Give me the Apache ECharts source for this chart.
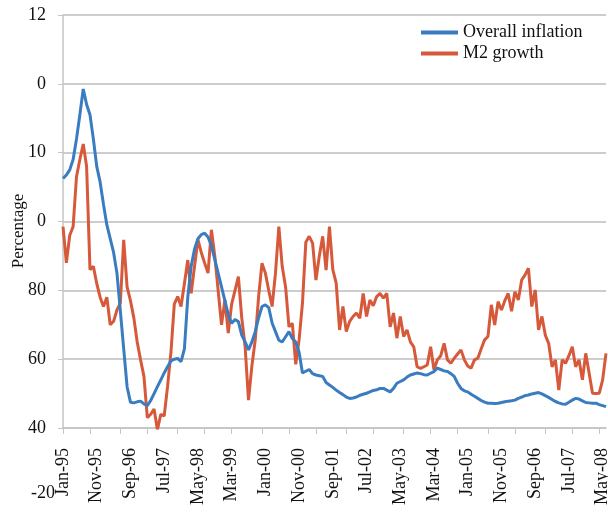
<!DOCTYPE html>
<html>
<head>
<meta charset="utf-8">
<title>Overall inflation and M2 growth</title>
<script src="https://cdn.jsdelivr.net/npm/echarts@6/dist/echarts.min.js"></script>
<style>
  html, body { margin: 0; padding: 0; background: #fff; }
  #chart { width: 608px; height: 512px; }
</style>
</head>
<body>
<div id="chart"></div>
<script>
// month names + years used to build the monthly category axis (Jan-95 .. Jun-08)
const monthNames = ['Jan', 'Feb', 'Mar', 'Apr', 'May', 'Jun', 'Jul', 'Aug', 'Sep', 'Oct', 'Nov', 'Dec']
const years = ['95', '96', '97', '98', '99', '00', '01', '02', '03', '04', '05', '06', '07', '08']

// value axis ticks and the (odd) labels printed next to them in the original
const yTicks = [40, 60, 80, 100, 120, 140, 160]
const yTickLabels = ['40', '60', '80', '0', '10', '0', '12']

const seriesNames = ['Overall inflation', 'M2 growth']

// one value per month
const inflation = [
  112.5, 113.5, 115, 118, 124, 131, 138.5, 134, 131, 124, 116, 111.5,
  105, 99, 95, 91, 85, 74, 63, 52, 47.5, 47.3, 47.6, 47.8,
  47, 46.5, 48, 50, 52, 54, 56, 57.8, 59.5, 60, 60.2, 59.3,
  63, 78, 87, 92, 95, 96.2, 96.6, 95.5, 93, 89, 85, 81,
  77, 73, 70.4, 71.5, 70.9, 67, 65, 62.7, 65, 68, 72, 75.3,
  75.8, 75, 70.5, 68, 65.5, 65, 66.5, 68, 66, 65, 62, 56,
  56.5, 57, 55.8, 55.4, 55.2, 55, 53.2, 52.5, 51.8, 51, 50.3, 49.7,
  49, 48.6, 48.7, 49, 49.5, 49.8, 50.1, 50.5, 50.9, 51.1, 51.5, 51.5,
  51, 50.5, 51.5, 53, 53.5, 54, 54.8, 55.4, 55.7, 56, 55.8, 55.5,
  55.4, 55.9, 56.4, 57.4, 57, 56.6, 56.4, 55.8, 55, 53, 51.5, 50.8,
  50.5, 49.8, 49.2, 48.6, 48, 47.5, 47.2, 47.2, 47.1, 47.2, 47.4, 47.6,
  47.8, 47.9, 48.1, 48.6, 49, 49.4, 49.6, 49.9, 50.1, 50.3, 49.9, 49.4,
  48.9, 48.3, 47.7, 47.3, 47, 46.9, 47.5, 48.1, 48.6, 48.4, 47.9, 47.4,
  47.3, 47.2, 47.2, 46.8, 46.5, 46.2
]
const m2Growth = [
  98.5, 88, 96, 98.5, 113, 118, 122.5, 116, 86, 87, 82, 78,
  75.3, 78, 70, 71, 74.3, 76.3, 94.7, 81, 77, 72, 65, 59.8,
  55, 43, 44, 45.5, 39.5, 44, 43.5, 52, 62, 76, 78.2, 75.3,
  82, 88.8, 79.1, 87, 94.7, 91, 87.9, 85, 97.6, 90, 80, 70,
  77.2, 67.6, 76, 80, 84, 72, 63.6, 48.1, 58, 65.6, 78.2, 87.9,
  85, 80, 75.3, 85, 98.5, 86.9, 81, 69.4, 70.4, 58.5, 65.6, 76.3,
  94, 95.7, 93.7, 83, 90, 95.7, 85.9, 98.5, 86, 82.1, 68.5, 75.3,
  68, 71, 72.4, 73.4, 71.9, 79.1, 72.4, 77.2, 75.5, 78.2, 79.1, 77.7,
  79.1, 69.4, 73.4, 66.1, 72.4, 66.6, 68.5, 65, 63.6, 57.8, 57.3, 57.8,
  58.3, 63.6, 56.9, 59.8, 61, 64.6, 59.8, 58.8, 60.3, 61.5, 62.7, 59.8,
  58, 57.4, 59.8, 60.3, 63, 65.6, 66.6, 75.8, 69.9, 76.7, 74.3, 77,
  79.1, 73.9, 79.6, 77.2, 83, 84.5, 86.4, 75.3, 80.1, 68.5, 72.4, 67,
  64.6, 57.8, 59.8, 51, 59.8, 58.8, 61, 63.6, 57.8, 59.8, 54, 61.7,
  55.9, 50.1, 50, 50.1, 54, 61.7
]

const months = []
years.forEach(y => {
  monthNames.forEach(m => months.push(m + '-' + y))
})
const categories = months.slice(0, inflation.length)

const serif = "'Liberation Serif', 'Times New Roman', serif"
const gridColor = '#c4c4c4'

const chart = echarts.init(document.getElementById('chart'))

const option = {
  animation: false,
  backgroundColor: '#fff',
  grid: { left: 63, right: 2, top: 15, bottom: 84, outerBoundsMode: 'none', containLabel: false },
  legend: {
    orient: 'vertical',
    left: 421,
    top: 22,
    padding: 0,
    itemWidth: 37,
    itemHeight: 4,
    itemGap: 0,
    icon: 'rect',
    textStyle: { fontFamily: serif, fontSize: 18, color: '#111', lineHeight: 21 },
    data: seriesNames
  },
  xAxis: {
    type: 'category',
    data: categories,
    boundaryGap: false,
    axisLine: { lineStyle: { color: gridColor, width: 1.5 } },
    axisTick: {
      length: 6,
      lineStyle: { color: gridColor },
      // original ticks are spaced about 8.4 months apart
      interval: (index) => Math.round(Math.round(index / 8.385) * 8.385) === index
    },
    axisLabel: {
      interval: 9,
      rotate: 90,
      margin: 20,
      fontFamily: serif,
      fontSize: 18,
      color: '#111'
    },
    splitLine: { show: false }
  },
  yAxis: {
    type: 'value',
    min: 40,
    max: 160,
    interval: 20,
    axisLine: { show: true, lineStyle: { color: gridColor, width: 1.5 } },
    axisTick: { show: true, length: 5, lineStyle: { color: gridColor } },
    axisLabel: {
      margin: 17,
      fontFamily: serif,
      fontSize: 18,
      color: '#111',
      formatter: (v) => {
        const k = yTicks.indexOf(v)
        return k >= 0 ? yTickLabels[k] : ''
      }
    },
    splitLine: { lineStyle: { color: '#bdbdbd', width: 1.5 } }
  },
  graphic: [
    {
      // y axis title
      type: 'text',
      x: 19,
      y: 231,
      rotation: Math.PI / 2,
      style: {
        text: 'Percentage',
        font: '17px ' + serif,
        fill: '#111',
        textAlign: 'center',
        textVerticalAlign: 'middle'
      }
    },
    {
      type: 'text',
      left: 31,
      top: 484,
      style: { text: '-20', font: '18px ' + serif, fill: '#111' }
    }
  ],
  series: [
    {
      name: seriesNames[0],
      type: 'line',
      data: inflation,
      showSymbol: false,
      lineStyle: { color: '#3a7cc0', width: 3 },
      itemStyle: { color: '#3a7cc0' },
      z: 3
    },
    {
      name: seriesNames[1],
      type: 'line',
      data: m2Growth,
      showSymbol: false,
      lineStyle: { color: '#d6593b', width: 3 },
      itemStyle: { color: '#d6593b' },
      z: 2
    }
  ]
}

chart.setOption(option)
</script>
</body>
</html>
